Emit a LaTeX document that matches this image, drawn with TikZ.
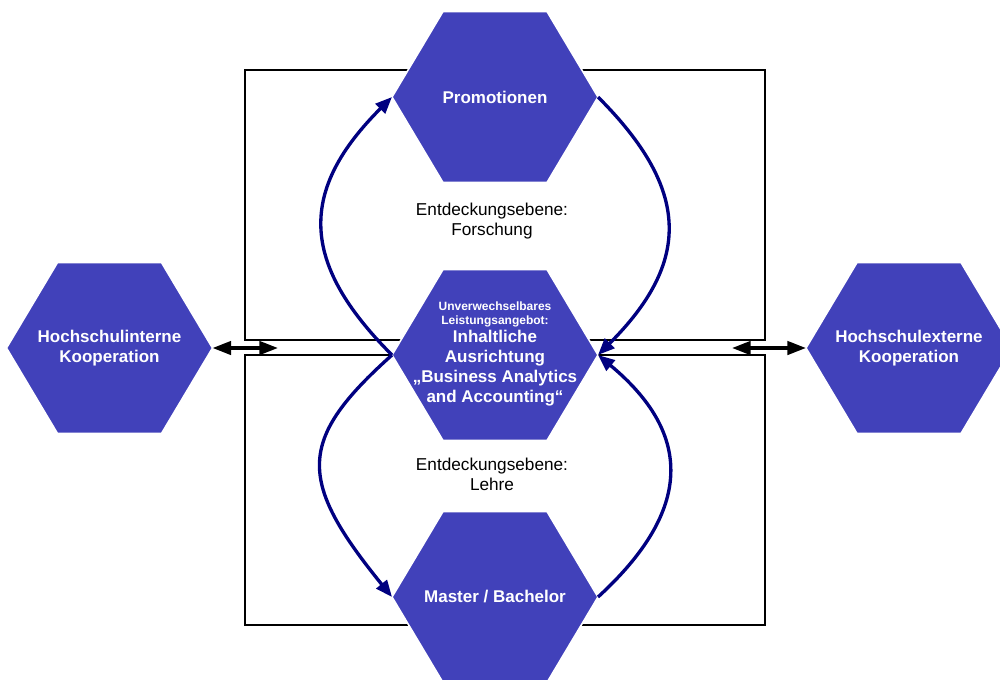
\documentclass[tikz,border=0pt]{standalone}
\usepackage{fontspec}
\setmainfont{Liberation Sans}
\usetikzlibrary{arrows.meta,calc}
\definecolor{hexblue}{RGB}{65,65,186}
\definecolor{arrblue}{RGB}{0,0,128}
\newcommand\hexshape[1]{%
  \path[hexbox] (#1) +(-103,0) -- +(-52,-85.5) -- +(52,-85.5) -- +(103,0)
    -- +(52,85.5) -- +(-52,85.5) -- cycle;
  \path (#1) ++(-103,0) coordinate (#1L);
  \path (#1) ++(103,0) coordinate (#1R);}
\begin{document}
\begin{tikzpicture}[x=0.75pt,y=-0.75pt,
  hexbox/.style={fill=hexblue,draw=white,line width=1.2pt},
  hextext/.style={text=white,font=\bfseries\fontsize{12.75}{15}\selectfont,align=center,inner sep=0pt},
  frame/.style={draw=black,line width=1.9pt},
  loop/.style={draw=arrblue,line width=2.5pt,-{Triangle[length=12.5pt,width=10pt]}},
  dbl/.style={draw=black,line width=2.6pt,{Triangle[length=14pt,width=10pt]}-{Triangle[length=14pt,width=10pt]}},
  level/.style={font=\fontsize{12.9}{15}\selectfont,align=center,inner sep=0pt}]
\useasboundingbox (0,0) rectangle (1000,679);
\clip (0,0) rectangle (1000,679);
% frames
\path[frame] (245,70) rectangle (765,340);
\path[frame] (245,355) rectangle (765,625);
% hexagon centres
\coordinate (p) at (495,97);
\coordinate (c) at (495,355);
\coordinate (b) at (495,597);
\coordinate (i) at (109.5,348);
\coordinate (e) at (909,348);
\hexshape{p}
\hexshape{c}
\hexshape{b}
\hexshape{i}
\hexshape{e}
% texts
\node[hextext] (pt) at (p) {Promotionen};
\node[hextext] (ct) at ($(c)+(0,-1)$) {\fontsize{9}{10.5}\selectfont Unverwechselbares\\[-4.5pt]
  \fontsize{9}{10.5}\selectfont Leistungsangebot:\\[-1.5pt]
  Inhaltliche\\Ausrichtung\\„Business Analytics\\and Accounting“};
\node[hextext] (bt) at (b) {Master / Bachelor};
\node[hextext] (it) at (i) {Hochschulinterne\\Kooperation};
\node[hextext] (et) at (e) {Hochschulexterne\\Kooperation};
\node[level] (forsch) at (492,221) {Entdeckungsebene:\\Forschung};
\node[level] (lehre) at (492,474) {Entdeckungsebene:\\Lehre};
% double arrows
\coordinate (la) at (278,348);
\coordinate (ra) at (732,348);
\draw[dbl] (iR) -- (la);
\draw[dbl] (ra) -- (eL);
% loops
\draw[loop] (cL) .. controls (299,262) and (299,190) .. (pL);
\draw[loop] (pR) .. controls (691,190) and (691,262) .. (cR);
\draw[loop] (cL) .. controls (297,440) and (297,480) .. (bL);
\draw[loop] (bR) .. controls (693,510) and (693,434) .. (cR);
\end{tikzpicture}
\end{document}
